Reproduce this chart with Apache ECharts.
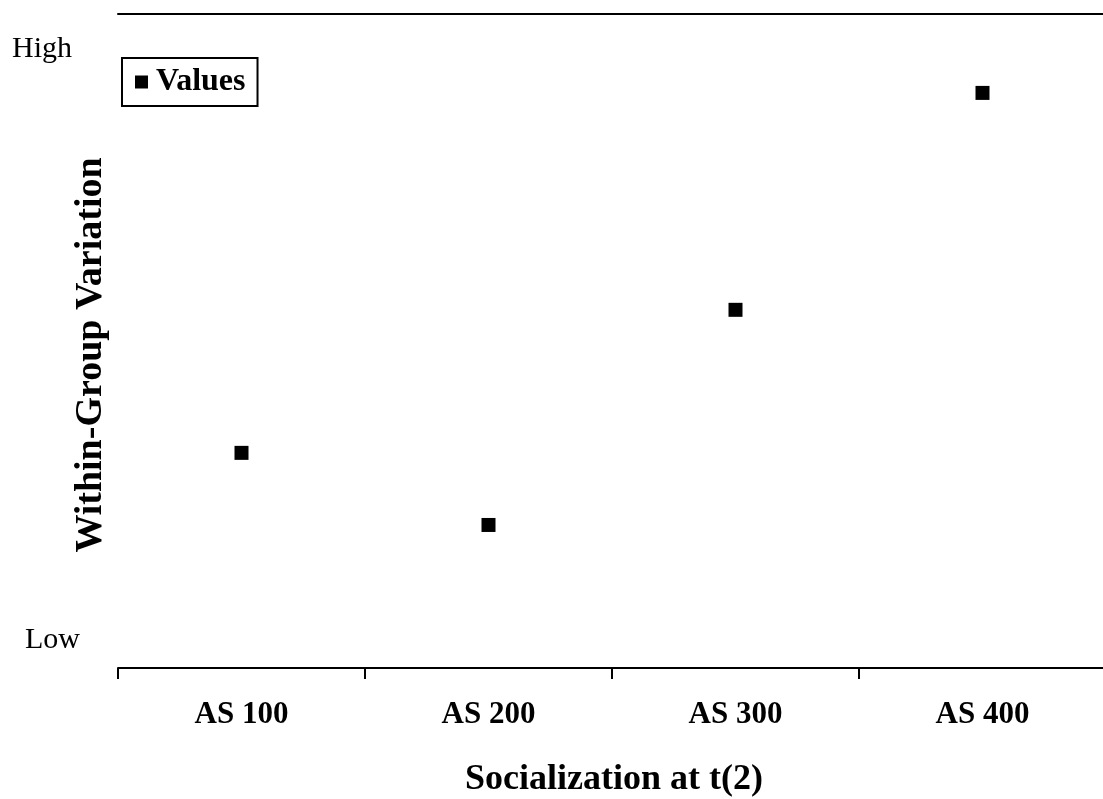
<!DOCTYPE html>
<html>
<head>
<meta charset="utf-8">
<script src="https://cdn.jsdelivr.net/npm/echarts@6/dist/echarts.min.js"></script>
<style>
html,body{margin:0;padding:0;background:#fff;}
#chart{width:1103px;height:799px;}
</style>
</head>
<body>
<div id="chart"></div>
<script>
const categories = ['AS 100', 'AS 200', 'AS 300', 'AS 400'];
const values = [31.5, 19.3, 55.7, 92.4];
const yTickValues = [0, 100];
const yTickLabels = { 0: 'Low', 100: 'High' };
const seriesName = 'Values';
const xTitle = 'Socialization at t(2)';
const yTitle = 'Within-Group Variation';

const serif = '"Liberation Serif", "Times New Roman", serif';
const chart = echarts.init(document.getElementById('chart'), null, { renderer: 'canvas' });
chart.setOption({
  backgroundColor: '#fff',
  animation: false,
  grid: { left: 118, right: -3, top: 14, bottom: 131, containLabel: false, outerBoundsMode: 'none' },
  legend: {
    data: [seriesName],
    left: 122, top: 58,
    orient: 'vertical',
    borderColor: '#000', borderWidth: 2,
    padding: [8, 12, 8, 13],
    itemWidth: 13, itemHeight: 13, itemGap: 0,
    icon: 'rect',
    itemStyle: { color: '#000', opacity: 1 },
    textStyle: { fontFamily: serif, fontWeight: 'bold', fontSize: 32, color: '#000', padding: [0, 0, 0, 3] }
  },
  title: {
    text: xTitle,
    left: 609, top: 757, textAlign: 'center',
    textStyle: { fontFamily: serif, fontWeight: 'bold', fontSize: 36, color: '#000' }
  },
  graphic: [{
    type: 'text',
    x: 91, y: 355, rotation: Math.PI / 2,
    style: { text: yTitle, fontFamily: serif, fontWeight: 'bold', fontSize: 38, fill: '#000', align: 'center', verticalAlign: 'middle' }
  }],
  xAxis: [{
    type: 'category', data: categories, boundaryGap: true, position: 'bottom',
    axisLine: { onZero: false, lineStyle: { color: '#000', width: 2 } },
    axisTick: { show: true, length: 11, lineStyle: { color: '#000', width: 2 } },
    axisLabel: { fontFamily: serif, fontWeight: 'bold', fontSize: 31, color: '#000', margin: 31 }
  }, {
    type: 'category', data: categories, position: 'top',
    axisLine: { show: true, onZero: false, lineStyle: { color: '#000', width: 2 } },
    axisTick: { show: false }, axisLabel: { show: false }
  }],
  yAxis: {
    type: 'value', min: -4.9, max: 105.75,
    axisLine: { show: false }, axisTick: { show: false }, splitLine: { show: false },
    axisLabel: {
      customValues: yTickValues,
      align: 'left', margin: 106,
      formatter: v => v === 0 ? '{l|' + yTickLabels[0] + '}' : '{h|' + yTickLabels[100] + '}',
      rich: {
        h: { fontFamily: serif, fontSize: 30, color: '#000', padding: [3, 0, 0, 0] },
        l: { fontFamily: serif, fontSize: 30, color: '#000', padding: [2, 0, 0, 13] }
      }
    }
  },
  series: [{
    name: seriesName, type: 'scatter', data: values,
    symbol: 'rect', symbolSize: 14,
    itemStyle: { color: '#000', opacity: 1 }
  }]
});
</script>
</body>
</html>
